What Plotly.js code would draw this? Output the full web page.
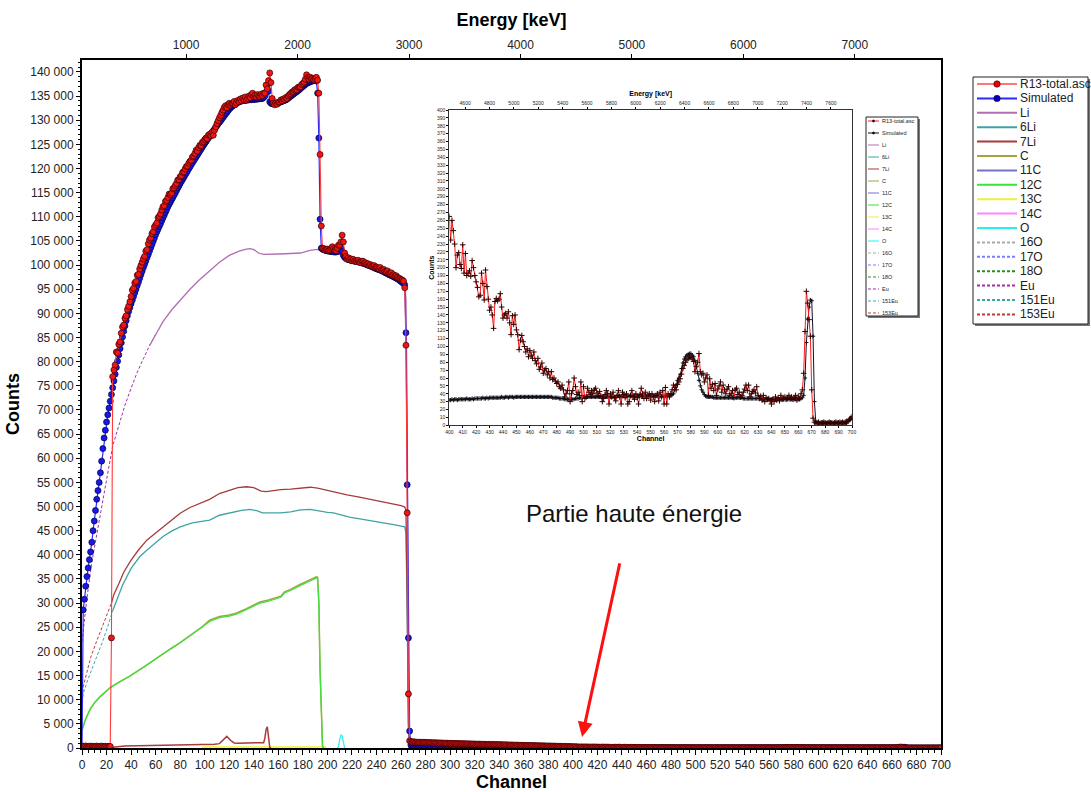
<!DOCTYPE html>
<html><head><meta charset="utf-8">
<script src="https://cdn.plot.ly/plotly-3.0.1.min.js"></script>
<style>html,body{margin:0;padding:0;background:#fff}#chart{width:1091px;height:792px}</style>
</head><body><div id="chart"></div>
<script>
// ---------------- DATA ----------------
// Measured spectrum (R13-total.asc), channels 0..399
const expMain = [
250,380,300,420,260,350,310,400,280,360,
330,290,410,300,350,270,390,320,300,360,
280,340,310,330,22800,76900,78300,79300,82000,81800,
83600,84100,85900,87200,87600,89000,89500,90800,91500,92400,
93500,94800,95200,96300,96600,97900,98100,99200,99900,100600,
101300,101800,102900,103200,104400,105200,105600,106500,106900,107900,
108300,108700,109800,110100,110600,111400,112100,112300,113200,113400,
114000,114700,114600,114900,115800,116000,116500,116900,117600,117700,
118300,118500,119200,119300,119900,120400,120500,121100,121500,121700,
122400,122600,123100,123800,123600,124300,124800,124700,125400,125600,
126000,126300,126200,126900,127100,126800,127500,126900,127900,128600,
129300,129900,130500,131000,131600,132100,132700,133000,132600,133200,
133500,133100,133400,133500,133900,133200,133600,134100,133800,134400,
134000,134600,134200,134800,134200,134500,135000,134700,135300,135600,
134900,135200,134800,135300,135000,134900,135400,135100,135600,135600,
137300,136500,138200,139800,137800,134500,133500,133200,133600,133300,
133700,133800,134200,134000,134400,134300,134700,134500,135000,135300,
135500,135800,135900,136200,136400,136300,136800,136900,136900,137400,
137600,137900,138500,139400,138800,138500,138900,138600,138700,138400,
138600,138900,138300,135600,122900,108100,103500,103400,103100,103300,
103300,103000,103200,103500,103800,103400,103100,103000,103500,104100,
104200,104800,106200,104800,102500,101800,101200,101500,101100,101300,
100900,101200,100800,100900,100700,101000,100600,100500,100800,100800,
100400,100500,100200,100300,99900,100100,99800,99700,99900,99500,
99600,99400,99200,99500,99000,98900,99100,98700,98600,98800,
98300,98200,98400,97900,98000,97700,97800,97500,97300,97200,
97000,96900,96700,95300,83400,48700,11200,1500,1300,1200,
1300,1250,1180,1220,1150,1200,1170,1130,1190,1120,
1160,1100,1140,1080,1120,1060,1090,1050,1100,1030,
1060,1020,1050,990,1030,980,1010,960,1000,950,
980,940,960,920,950,900,930,890,910,870,
900,860,880,850,870,830,860,820,840,800,
830,790,810,780,800,760,790,750,770,740,
760,730,750,710,740,700,720,690,710,670,
700,660,680,640,670,630,650,620,640,600,
630,590,610,570,600,560,580,550,570,530,
560,520,540,500,530,490,510,480,500,460,
490,450,470,440,460,420,450,410,430,400,
420,390,410,380,400,370,380,350,370,340,
360,330,340,310,330,300,310,290,300,280
];
// Simulated spectrum, channels 0..399
const simMain = [
0,28600,30800,33500,35500,37300,39000,40600,42600,45000,
47000,49200,51500,53300,55000,57000,59400,62000,64200,65800,
67500,69000,70400,71800,73200,74600,76000,77400,78800,80100,
81400,82700,83900,85100,86300,87400,88500,89500,90400,91200,
92000,92750,93500,94250,95000,95750,96500,97250,98000,98750,
99500,100200,100850,101550,102200,102900,103600,104250,104950,105600,
106300,106900,107450,108050,108600,109200,109800,110350,110950,111500,
112100,112600,113050,113550,114000,114500,114950,115450,115950,116400,
116900,117350,117750,118200,118650,119050,119500,119950,120350,120800,
121200,121600,122000,122400,122800,123200,123600,124000,124400,124800,
125200,125550,125950,126300,126650,127050,127400,127800,128150,128550,
128900,129250,129600,129900,130250,130600,130950,131300,131600,131950,
132300,132550,132800,133000,133200,133400,133550,133700,133800,133900,
134000,134050,134100,134100,134150,134200,134200,134250,134250,134300,
134300,134350,134350,134400,134400,134450,134450,134500,134700,135000,
135800,137300,136000,133800,133500,133400,133400,133400,133500,133500,
133600,133700,133800,133900,134000,134100,134200,134350,134550,134750,
134950,135150,135350,135550,135750,135900,136100,136300,136550,136800,
137000,137200,137400,137600,137750,137850,137950,138050,138150,138250,
138300,138100,135600,126300,109500,103500,103300,103200,103100,103000,
102950,102900,102850,102800,102800,102750,102700,102700,102800,103000,
103300,103500,102800,102000,101600,101400,101300,101200,101100,101000,
100950,100900,100850,100800,100750,100700,100600,100550,100450,100400,
100300,100200,100100,100000,99900,99800,99700,99600,99450,99350,
99250,99150,99050,99000,98850,98750,98600,98450,98350,98200,
98050,97950,97850,97700,97600,97450,97300,97150,97000,96800,
96600,96400,96200,95900,86000,54500,22800,3500,600,150,
60,40,37,36,35,36,35,34,35,36,
35,34,35,35,36,35,34,35,35,34,
35,36,35,34,35,35,34,35,36,35,
34,35,35,34,35,36,35,34,35,35,
34,35,35,36,35,34,35,35,34,35,
35,34,35,36,35,34,35,35,34,35,
36,35,34,35,35,34,35,36,35,34,
35,35,34,35,34,34,35,34,34,33,
34,34,33,34,34,33,34,34,33,34,
34,33,34,33,33,34,33,33,34,33,
33,33,34,33,33,33,34,33,33,33,
33,33,32,33,33,33,32,33,33,32,
33,32,33,32,32,33,32,32,33,32
];
// High-energy part (inset), channels 400..700
const expHigh = [
265,235,260,247,230,200,216,219,204,199,
229,193,218,190,193,196,189,209,200,190,
182,175,163,165,193,180,159,197,176,160,
146,150,140,123,157,161,158,160,167,150,
136,140,142,136,144,130,115,139,128,140,
121,115,96,108,114,106,100,93,97,87,
95,89,85,93,82,78,85,71,74,79,
66,70,72,64,68,60,68,58,60,56,
53,55,49,47,51,45,36,40,44,55,
30,40,44,60,49,39,42,38,55,30,
49,34,36,47,42,39,44,40,45,47,
41,38,43,37,30,34,39,44,40,27,
40,36,42,35,31,38,44,36,27,42,
39,35,40,27,30,38,44,36,33,40,
35,27,39,47,40,34,42,34,38,40,
32,40,36,30,38,40,31,42,36,44,
27,48,27,40,36,40,45,51,48,45,
52,55,59,65,72,76,80,83,85,87,
86,84,81,68,75,80,91,68,64,66,
55,60,64,38,59,47,52,44,53,38,
46,50,55,42,51,45,40,46,49,38,
40,44,35,45,47,39,42,36,38,42,
46,51,44,51,36,40,43,45,41,49,
38,34,37,32,38,30,35,33,34,31,
27,33,30,36,32,35,31,38,33,34,
36,33,35,38,34,36,33,35,38,32,
36,34,40,45,66,119,170,155,134,113,
45,9,4,3,3,4,2,3,3,4,
3,2,3,4,3,3,2,3,4,3,
3,4,3,4,3,4,5,5,7,9,
11
];
const simHigh = [
32,32,33,32,33,33,32,33,33,33,
33,33,33,34,33,33,33,34,33,34,
34,34,34,34,34,35,34,34,35,34,
35,35,35,35,35,35,35,35,35,36,
35,35,36,36,35,36,36,36,35,36,
36,36,36,36,36,36,36,36,36,36,
36,36,36,36,36,36,36,36,36,36,
36,36,36,36,36,36,36,35,35,35,
35,35,34,34,34,34,33,33,33,33,
33,33,33,33,34,34,34,35,35,35,
36,36,36,36,36,36,36,36,36,36,
36,36,36,36,36,36,36,36,36,36,
36,36,36,36,36,37,37,37,37,37,
37,37,37,37,37,37,37,37,37,37,
37,37,37,37,37,37,37,37,37,37,
37,37,37,37,37,37,37,37,37,37,
37,37,37,38,38,38,39,40,45,51,
57,60,64,72,79,84,87,89,90,91,
91,89,87,82,74,66,57,50,45,42,
39,37,36,36,36,36,36,35,35,35,
35,35,35,35,35,35,35,35,35,35,
35,35,35,35,35,35,35,35,35,34,
34,34,34,34,34,34,34,34,34,34,
34,34,34,33,33,33,33,33,33,33,
33,33,33,33,33,33,33,33,33,33,
33,33,33,33,33,33,33,33,33,33,
33,33,34,35,38,60,105,135,150,159,
158,113,30,5,3,3,3,3,3,3,
3,3,3,3,3,3,3,3,3,3,
3,3,3,3,3,3,3,5,7,8,
9
];
const highStartChannel = 400;

// Element / isotope contributions: channel positions and counts
const liCh  = [55,60,66,73,80,88,96,104,112,120,128,134,137,140,144,148,152,160,170,178,185,190,195,200,205,212,218,230,243,255,263,264,265,266,267];
const liCnt = [83300,85600,88300,90700,92800,95000,97000,98800,100600,102000,102900,103300,103400,103200,102500,102200,102200,102300,102400,102500,103000,103200,103200,102900,102700,102000,101100,100300,99000,97400,95900,93000,70000,15000,0];
const li6Ch  = [25,28,33,40,47,53,60,66,73,80,90,100,104,112,120,130,137,143,147,155,162,170,178,186,194,200,205,212,218,230,243,255,263,264,265,266,267];
const li6Cnt = [28400,30300,33700,37200,39600,41000,42600,43800,44900,45800,46600,47100,47200,48200,48700,49200,49400,49100,48700,48700,48700,48900,49300,49400,49000,48800,48700,48300,47800,47300,46800,46200,45800,44500,28000,4000,0];
const li7Ch  = [24,26,30,34,40,46,53,60,66,73,80,88,96,104,112,120,127,134,140,146,150,156,162,170,178,186,192,199,205,210,216,225,235,243,250,256,260,263,264,265,266,267];
const li7Cnt = [30000,31800,34000,36400,38900,41000,43100,44500,45800,47200,48600,49800,50700,51500,52700,53400,53900,54100,53900,53200,53100,53300,53500,53600,53800,54000,53800,53400,52900,52700,52400,52000,51500,51000,50700,50400,50200,49900,49300,30000,5000,0];
const li7LowCh  = [0,23,35,60,100,108,112,115,118,121,124,127,140,148,149,150,151,152,153,154];
const li7LowCnt = [0,100,400,500,650,800,900,1600,2400,1600,1050,1000,1050,1100,2000,3800,4400,1500,200,0];
const c12Ch  = [0,3,7,11,15,19,23,30,39,50,63,72,80,90,98,104,112,120,126,134,140,145,152,158,162,165,170,176,182,188,191,192,193,194,195,196,197];
const c12Cnt = [3700,6000,8200,9600,10700,11700,12500,13600,14900,16700,19000,20500,21800,23600,25100,26200,27000,27300,27700,28600,29300,30000,30400,30800,31200,32100,32600,33400,34100,34800,35200,35100,30000,16000,5000,300,0];
const cCnt   = [3700,6000,8200,9600,10700,11700,12500,13600,14900,16700,19000,20500,21800,23600,25100,26450,27250,27550,27950,28850,29550,30250,30650,31050,31450,32350,32850,33650,34350,35050,35450,35350,30200,16200,5200,400,0];
const c13Ch  = [98,99,198,199];
const c13Cnt = [0,220,220,0];
const oCh  = [208,209,210,211,212,213,214];
const oCnt = [0,300,1800,2700,2500,900,0];
const euCh  = [0,1,4,8,12,16,20,25,30,35,40,45,50,55,60];
const euCnt = [22000,24400,31000,38500,44400,50000,55500,62500,67000,71000,74500,77800,80600,83300,85600];
const eu151Ch  = [0,1,5,9,13,17,21,25];
const eu151Cnt = [9500,11300,14300,16800,19500,22200,25200,28400];
const eu153Ch  = [0,1,4,7,11,15,19,22,24];
const eu153Cnt = [10500,12700,15700,18700,21500,24000,26800,28700,30000];

// Energy calibration of the top axes (keV = offset + gain * channel)
const calOffset = 66, calGain = 11.01;

// Legend entries (name, colour, dash)
const legendNames  = ['R13-total.asc','Simulated','Li','6Li','7Li','C','11C','12C','13C','14C','O','16O','17O','18O','Eu','151Eu','153Eu'];
const legendColors = ['#ff7878','#2a2aff','#b46cb4','#3fa3a3','#a83a3a','#a3a341','#7272c8','#3ce23c','#f0f03a','#ff84ff','#28f0f0','#a8a8a8','#7c7cff','#2e8b2e','#a52aa5','#3aa8a8','#c03a3a'];
const legendDash   = ['solid','solid','solid','solid','solid','solid','solid','solid','solid','solid','solid','3px,2px','3px,2px','3px,2px','3px,2px','3px,2px','3px,2px'];

// ---------------- BUILD ----------------
const FONT = 'Arial, "Liberation Sans", sans-serif';
const colorOf = n => legendColors[legendNames.indexOf(n)];
const dashOf = n => legendDash[legendNames.indexOf(n)];

const chLow = expMain.map((_, i) => i);
const chHigh = expHigh.map((_, i) => highStartChannel + i);
const chAll = chLow.concat(chHigh);
const expAll = expMain.concat(expHigh);
const simAll = simMain.concat(simHigh);

function comp(name, xs, ys, w) {
  return {type:'scatter', mode:'lines', name, x:xs, y:ys, xaxis:'x', yaxis:'y',
    line:{color:colorOf(name), width:w||1.2, dash:dashOf(name)}, hoverinfo:'x+y+name', showlegend:false};
}

const traces = [
  comp('153Eu', eu153Ch, eu153Cnt, 1),
  comp('151Eu', eu151Ch, eu151Cnt, 1),
  comp('Eu', euCh, euCnt, 1),
  comp('16O', [], [], 1), comp('17O', [], [], 1), comp('18O', [], [], 1),
  comp('11C', [], [], 1), comp('14C', [], [], 1),
  comp('13C', c13Ch, c13Cnt, 1.5),
  comp('C', c12Ch, cCnt, 1.5),
  comp('12C', c12Ch, c12Cnt, 1.2),
  comp('O', oCh, oCnt, 1.2),
  Object.assign(comp('7Li', li7LowCh, li7LowCnt, 1.5), {name:'7Li (low)'}),
  comp('6Li', li6Ch, li6Cnt, 1.3),
  comp('7Li', li7Ch, li7Cnt, 1.3),
  comp('Li', liCh, liCnt, 1.3),
  {type:'scatter', mode:'lines+markers', name:'Simulated', x:chAll, y:simAll, xaxis:'x', yaxis:'y', showlegend:false,
    line:{color:'#2a2aff', width:1.2}, marker:{size:6, color:'#1818e8', line:{color:'#000040', width:0.7}}},
  {type:'scatter', mode:'lines+markers', name:'R13-total.asc', x:chAll, y:expAll, xaxis:'x', yaxis:'y', showlegend:false,
    line:{color:'#ff3a3a', width:1.1}, marker:{size:6, color:'#ee1515', line:{color:'#3a0000', width:0.7}}},
  {type:'scatter', mode:'lines', x:[], y:[], xaxis:'x2', yaxis:'y', showlegend:false, hoverinfo:'skip'},
  // inset
  {type:'scatter', mode:'lines+markers', name:'Simulated', x:chHigh, y:simHigh, xaxis:'x3', yaxis:'y3', showlegend:false,
    line:{color:'#10102a', width:1}, marker:{symbol:'cross-thin', size:3, line:{color:'#101018', width:1}}},
  {type:'scatter', mode:'lines+markers', name:'R13-total.asc', x:chHigh, y:expHigh, xaxis:'x3', yaxis:'y3', showlegend:false,
    line:{color:'#ff1a1a', width:1}, marker:{symbol:'cross-thin', size:4, line:{color:'#300000', width:1}}},
  {type:'scatter', mode:'lines', x:[], y:[], xaxis:'x4', yaxis:'y3', showlegend:false, hoverinfo:'skip'}
];

// pixel -> paper helpers
const W = 1091, H = 792, M = {l:82, r:150, t:60, b:44};
const PW = W - M.l - M.r, PH = H - M.t - M.b;
const pxX = x => (x - M.l) / PW;
const pxY = y => (H - M.b - y) / PH;

const shapes = [], annotations = [];

function drawLegend(o) {
  shapes.push({type:'rect', xref:'paper', yref:'paper', x0:pxX(o.x0+2), x1:pxX(o.x1+2), y0:pxY(o.y0+2), y1:pxY(o.y1+2),
    line:{width:0}, fillcolor:'#777', layer:'above'});
  shapes.push({type:'rect', xref:'paper', yref:'paper', x0:pxX(o.x0), x1:pxX(o.x1), y0:pxY(o.y0), y1:pxY(o.y1),
    line:{color:'#222', width:1}, fillcolor:'#fff', layer:'above'});
  legendNames.forEach((n, i) => {
    const y = o.row0 + o.step * i;
    shapes.push({type:'line', xref:'paper', yref:'paper', x0:pxX(o.lx0), x1:pxX(o.lx1), y0:pxY(y), y1:pxY(y),
      line:{color: i === 0 && o.expLine ? o.expLine : (i === 1 && o.simLine ? o.simLine : colorOf(n)), width:o.lw, dash:dashOf(n)}, layer:'above'});
    if (i < 2) {
      const cx = (o.lx0 + o.lx1) / 2, r = o.mr;
      shapes.push({type:'circle', xref:'paper', yref:'paper', x0:pxX(cx-r), x1:pxX(cx+r), y0:pxY(y+r), y1:pxY(y-r),
        fillcolor: i === 0 ? o.expMarker : o.simMarker, line:{color:'#200', width:0.6}, layer:'above'});
    }
    annotations.push({xref:'paper', yref:'paper', x:pxX(o.tx), y:pxY(y), xanchor:'left', yanchor:'middle',
      text:n, showarrow:false, font:{family:FONT, size:o.fs, color:'#222'}, borderpad:0});
  });
}
drawLegend({x0:973, x1:1088, y0:77, y1:324, row0:84, step:14.4, lx0:977, lx1:1017, tx:1019, fs:12, lw:2, mr:3.2,
  expLine:'#ff7878', expMarker:'#e00', simMarker:'#0000c0'});
drawLegend({x0:866, x1:918, y0:117, y1:316, row0:121, step:12, lx0:868, lx1:879, tx:880.5, fs:5.5, lw:1, mr:1.1,
  expLine:'#ff2020', simLine:'#111', expMarker:'#300', simMarker:'#003'});

annotations.push({xref:'paper', yref:'paper', x:pxX(634), y:pxY(513), xanchor:'center', yanchor:'middle',
  text:'Partie haute énergie', showarrow:false, font:{family:FONT, size:24, color:'#111'}});
annotations.push({xref:'x', yref:'y', x:407.5, y:2300, ax:38, ay:-175, text:'', showarrow:true,
  arrowcolor:'#ff1010', arrowwidth:3, arrowhead:2, arrowsize:1});

const axBase = {showgrid:false, zeroline:false, showline:true, linecolor:'#000', ticks:'outside', tickcolor:'#000',
  tickfont:{family:FONT, size:12, color:'#222'}, automargin:false};

const insetDomX = [pxX(449.3), pxX(852)];
const insetDomY = [pxY(425.3), pxY(110)];

const layout = {
  width:W, height:H, margin:M, paper_bgcolor:'#fff', plot_bgcolor:'#fff', showlegend:false,
  separators:'. ', font:{family:FONT, color:'#222'},
  xaxis: Object.assign({}, axBase, {range:[0,700], dtick:20, ticklen:5, linewidth:2, mirror:true,
    minor:{dtick:5, ticklen:3, ticks:'outside', tickcolor:'#000'},
    title:{text:'<b>Channel</b>', font:{family:FONT, size:18, color:'#000'}, standoff:4}}),
  xaxis2: Object.assign({}, axBase, {overlaying:'x', side:'top', anchor:'y', showline:false,
    range:[calOffset, calOffset + 700*calGain], tick0:0, dtick:1000, ticklen:5,
    title:{text:'<b>Energy [keV]</b>', font:{family:FONT, size:18, color:'#000'}, standoff:6}}),
  yaxis: Object.assign({}, axBase, {range:[0,142470], dtick:5000, tickformat:',d', ticklen:4, linewidth:2, mirror:true,
    minor:{dtick:1000, ticklen:2, ticks:'outside', tickcolor:'#000'},
    title:{text:'<b>Counts</b>', font:{family:FONT, size:18, color:'#000'}, standoff:6}}),
  xaxis3: Object.assign({}, axBase, {domain:insetDomX, anchor:'y3', range:[400,700], dtick:10, ticklen:2, linewidth:1, mirror:true,
    linecolor:'#333', tickfont:{family:FONT, size:5, color:'#222'},
    title:{text:'<b>Channel</b>', font:{family:FONT, size:7, color:'#000'}, standoff:1}}),
  xaxis4: Object.assign({}, axBase, {overlaying:'x3', side:'top', anchor:'y3', showline:false,
    range:[calOffset + 400*calGain, calOffset + 700*calGain], tick0:0, dtick:200, ticklen:2,
    tickfont:{family:FONT, size:5, color:'#222'},
    title:{text:'<b>Energy [keV]</b>', font:{family:FONT, size:7, color:'#000'}, standoff:2}}),
  yaxis3: Object.assign({}, axBase, {domain:insetDomY, anchor:'x3', range:[0,400], dtick:10, ticklen:2, linewidth:1, mirror:true,
    linecolor:'#333', tickfont:{family:FONT, size:5, color:'#222'},
    title:{text:'<b>Counts</b>', font:{family:FONT, size:7, color:'#000'}, standoff:1}}),
  shapes, annotations
};

Plotly.newPlot('chart', traces, layout, {staticPlot:true, displayModeBar:false});
</script></body></html>
